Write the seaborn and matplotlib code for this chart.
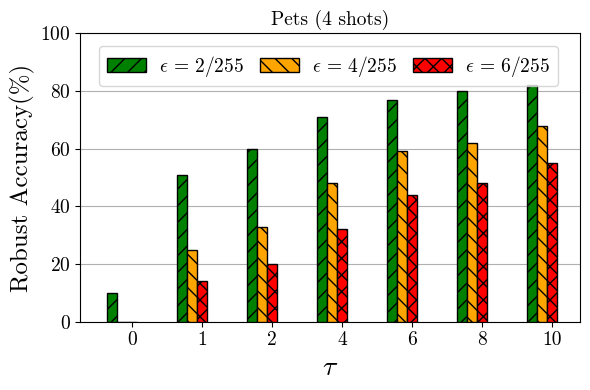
import numpy as np
import pandas as pd
import matplotlib
matplotlib.use("Agg")
import matplotlib.pyplot as plt
import seaborn as sns

# data
taus = ["0", "1", "2", "4", "6", "8", "10"]
eps_labels = [r"$\epsilon\,=\,2/255$", r"$\epsilon\,=\,4/255$", r"$\epsilon\,=\,6/255$"]
acc_eps2 = [10, 51, 60, 71, 77, 80, 82]
acc_eps4 = [0, 25, 33, 48, 59, 62, 68]
acc_eps6 = [0, 14, 20, 32, 44, 48, 55]

colors = ["green", "orange", "red"]
hatches = ["//", "\\\\", "xx"]

plt.rcParams["font.family"] = "serif"
plt.rcParams["font.serif"] = ["cmr10"]
plt.rcParams["mathtext.fontset"] = "cm"
plt.rcParams["axes.formatter.use_mathtext"] = True
plt.rcParams["axes.unicode_minus"] = False

df = pd.DataFrame({
    "tau": taus * 3,
    "acc": acc_eps2 + acc_eps4 + acc_eps6,
    "eps": [eps_labels[0]] * 7 + [eps_labels[1]] * 7 + [eps_labels[2]] * 7,
})

fig, ax = plt.subplots(figsize=(5.9, 3.9), dpi=100)

W = 0.43
sns.barplot(data=df, x="tau", y="acc", hue="eps", palette=colors,
            saturation=1, width=W, edgecolor="black", linewidth=1,
            legend=False, ax=ax, zorder=3)

for cont, h in zip(ax.containers, hatches):
    for p in cont.patches:
        p.set_hatch(h)

# ticks sit under the last bar of each group
ax.set_xticks(np.arange(len(taus)) + W / 3)
ax.set_xticklabels(taus)
ax.set_xlim(-0.6, len(taus) - 1 + 0.543)
ax.set_ylim(0, 100)
ax.yaxis.grid(True, color="#b0b0b0", linewidth=0.8, zorder=0)
ax.set_axisbelow(True)

ax.tick_params(axis="both", labelsize=14)
ax.set_xlabel(r"$\tau$", fontsize=20)
ax.set_ylabel("Robust Accuracy(%)", fontsize=18)
ax.set_title("Pets (4 shots)", fontsize=14)

ax.legend(ax.containers, eps_labels, ncol=3, loc="upper center",
          fontsize=14, handlelength=2.0, columnspacing=0.85,
          handletextpad=0.65, borderpad=0.4, bbox_to_anchor=(0.497, 0.99))

plt.subplots_adjust(left=0.136, right=0.983, top=0.915, bottom=0.175)
plt.savefig("out.png", dpi=100)
plt.close()
